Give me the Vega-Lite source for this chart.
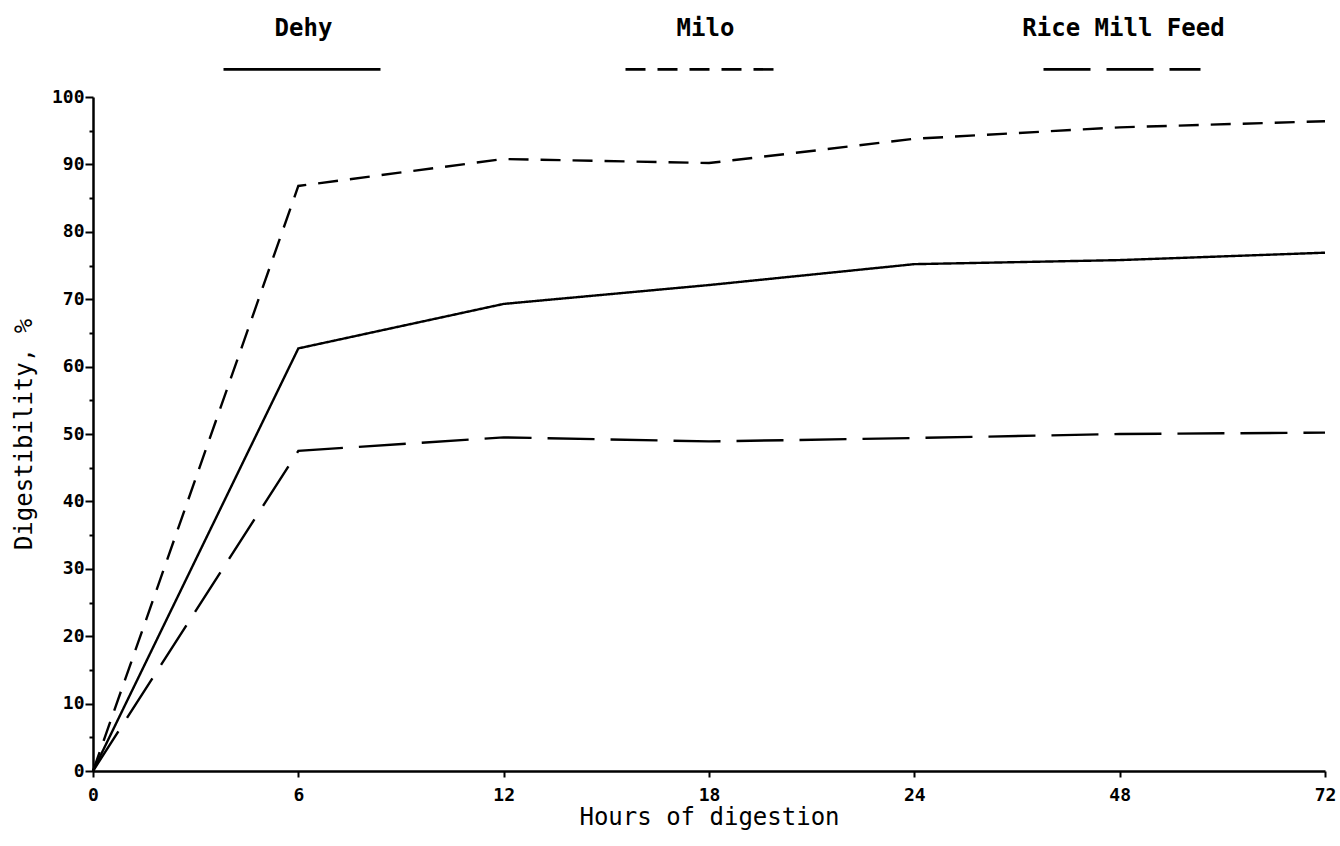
{
  "$schema": "https://vega.github.io/schema/vega-lite/v6.json",
  "width": 1232,
  "height": 674,
  "autosize": "none",
  "padding": {"left": 93, "top": 97, "right": 15, "bottom": 75},
  "background": "white",
  "config": {"view": {"stroke": null}, "font": "DejaVu Sans Mono"},
  "data": {
    "values": [
      {"feed": "Dehy", "hours": 0, "pct": 0},
      {"feed": "Dehy", "hours": 6, "pct": 62.7},
      {"feed": "Dehy", "hours": 12, "pct": 69.3},
      {"feed": "Dehy", "hours": 18, "pct": 72.1},
      {"feed": "Dehy", "hours": 24, "pct": 75.2},
      {"feed": "Dehy", "hours": 48, "pct": 75.8},
      {"feed": "Dehy", "hours": 72, "pct": 76.9},
      {"feed": "Milo", "hours": 0, "pct": 0},
      {"feed": "Milo", "hours": 6, "pct": 86.8},
      {"feed": "Milo", "hours": 12, "pct": 90.8},
      {"feed": "Milo", "hours": 18, "pct": 90.2},
      {"feed": "Milo", "hours": 24, "pct": 93.8},
      {"feed": "Milo", "hours": 48, "pct": 95.5},
      {"feed": "Milo", "hours": 72, "pct": 96.4},
      {"feed": "Rice Mill Feed", "hours": 0, "pct": 0},
      {"feed": "Rice Mill Feed", "hours": 6, "pct": 47.5},
      {"feed": "Rice Mill Feed", "hours": 12, "pct": 49.5},
      {"feed": "Rice Mill Feed", "hours": 18, "pct": 48.9},
      {"feed": "Rice Mill Feed", "hours": 24, "pct": 49.4},
      {"feed": "Rice Mill Feed", "hours": 48, "pct": 50.0},
      {"feed": "Rice Mill Feed", "hours": 72, "pct": 50.2}
    ]
  },
  "mark": {"type": "line", "color": "black", "strokeWidth": 2.4},
  "encoding": {
    "x": {
      "field": "hours",
      "type": "ordinal",
      "sort": "ascending",
      "scale": {"type": "point", "padding": 0},
      "axis": {
        "title": "Hours of digestion",
        "labelAngle": 0,
        "tickSize": 6,
        "tickWidth": 2,
        "tickColor": "black",
        "domainColor": "black",
        "domainWidth": 2.5,
        "labelColor": "black",
        "labelFont": "DejaVu Sans Mono",
        "labelFontWeight": "bold",
        "labelFontSize": 18,
        "labelPadding": 9,
        "titleFont": "DejaVu Sans Mono",
        "titleFontSize": 24,
        "titleFontWeight": "normal",
        "titleColor": "black",
        "titlePadding": 1
      }
    },
    "y": {
      "field": "pct",
      "type": "quantitative",
      "scale": {"domain": [0, 100], "nice": false},
      "axis": {
        "title": "Digestibility, %",
        "grid": false,
        "values": [0, 5, 10, 15, 20, 25, 30, 35, 40, 45, 50, 55, 60, 65, 70, 75, 80, 85, 90, 95, 100],
        "labelExpr": "datum.value % 10 === 0 ? datum.label : ''",
        "tickSize": {"condition": {"test": "datum.value % 10 === 0", "value": 8}, "value": 4},
        "tickWidth": 2,
        "tickColor": "black",
        "domainColor": "black",
        "domainWidth": 2.5,
        "labelColor": "black",
        "labelFont": "DejaVu Sans Mono",
        "labelFontWeight": "bold",
        "labelFontSize": 18,
        "labelPadding": 1,
        "titleFont": "DejaVu Sans Mono",
        "titleFontSize": 24,
        "titleFontWeight": "normal",
        "titleColor": "black",
        "titlePadding": 15
      }
    },
    "strokeDash": {
      "field": "feed",
      "type": "nominal",
      "scale": {"domain": ["Dehy", "Milo", "Rice Mill Feed"], "range": [[1, 0], [20, 12], [47, 16]]},
      "legend": {
        "orient": "none",
        "legendX": 129,
        "legendY": -108,
        "direction": "horizontal",
        "title": null,
        "symbolType": "stroke",
        "symbolSize": 24649,
        "symbolStrokeWidth": 2.6,
        "symbolStrokeColor": "black",
        "labelAlign": "center",
        "labelOffset": -78.5,
        "labelLimit": 400,
        "columnPadding": 234,
        "labelFont": "DejaVu Sans Mono",
        "labelFontSize": 24,
        "labelFontWeight": "bold",
        "labelColor": "black",
        "encode": {"labels": {"update": {"dy": {"value": -40}}}}
      }
    }
  }
}
